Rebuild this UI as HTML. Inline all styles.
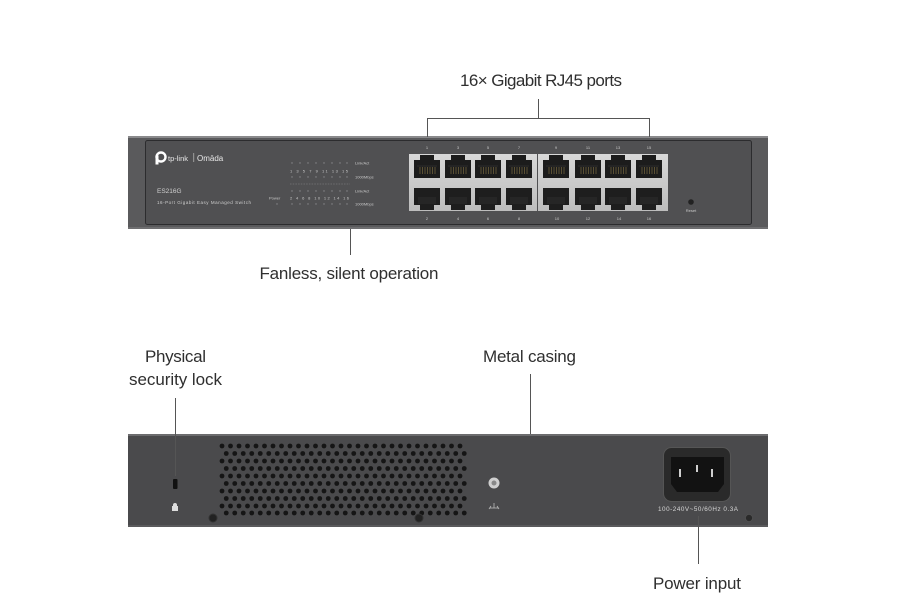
<!DOCTYPE html>
<html><head><meta charset="utf-8"><style>
html,body{margin:0;padding:0;background:#fff;}
body{width:909px;height:614px;overflow:hidden;}
svg{display:block;}
.lbl{font-family:"Liberation Sans",sans-serif;font-size:17px;fill:#2f2f2f;}
.tiny{font-family:"Liberation Sans",sans-serif;font-size:4px;fill:#c9c9c9;}
</style></head><body>
<svg width="909" height="614" viewBox="0 0 909 614" xmlns="http://www.w3.org/2000/svg">
<defs>
<linearGradient id="silver" x1="0" y1="0" x2="0" y2="1">
<stop offset="0" stop-color="#d8d8d8"/><stop offset="1" stop-color="#bdbdbd"/>
</linearGradient>
<g id="portT">
<path d="M0 5 H6 V0 H20 V5 H26 V23 H0 Z" fill="#1c1c1c"/>
<path d="M3 11 H23" stroke="#2c2c2c" stroke-width="1"/>
<g stroke="#6b5e3c" stroke-width="0.8">
<line x1="6" y1="12" x2="6" y2="19"/><line x1="8.5" y1="12" x2="8.5" y2="19"/><line x1="11" y1="12" x2="11" y2="19"/><line x1="13.5" y1="12" x2="13.5" y2="19"/><line x1="16" y1="12" x2="16" y2="19"/><line x1="18.5" y1="12" x2="18.5" y2="19"/><line x1="21" y1="12" x2="21" y2="19"/>
</g>
</g>
<g id="portB">
<path d="M0 0 H26 V17 H20 V22 H6 V17 H0 Z" fill="#1e1e1e"/>
<path d="M4 9 H22 V16 H4 Z" fill="#262626"/>
</g>
<g id="r0">
<circle cx="222" cy="0" r="2.4"/><circle cx="230.5" cy="0" r="2.4"/><circle cx="239" cy="0" r="2.4"/><circle cx="247.5" cy="0" r="2.4"/><circle cx="256" cy="0" r="2.4"/><circle cx="264.5" cy="0" r="2.4"/><circle cx="273" cy="0" r="2.4"/><circle cx="281.5" cy="0" r="2.4"/><circle cx="290" cy="0" r="2.4"/><circle cx="298.5" cy="0" r="2.4"/><circle cx="307" cy="0" r="2.4"/><circle cx="315.5" cy="0" r="2.4"/><circle cx="324" cy="0" r="2.4"/><circle cx="332.5" cy="0" r="2.4"/><circle cx="341" cy="0" r="2.4"/><circle cx="349.5" cy="0" r="2.4"/><circle cx="358" cy="0" r="2.4"/><circle cx="366.5" cy="0" r="2.4"/><circle cx="375" cy="0" r="2.4"/><circle cx="383.5" cy="0" r="2.4"/><circle cx="392" cy="0" r="2.4"/><circle cx="400.5" cy="0" r="2.4"/><circle cx="409" cy="0" r="2.4"/><circle cx="417.5" cy="0" r="2.4"/><circle cx="426" cy="0" r="2.4"/><circle cx="434.5" cy="0" r="2.4"/><circle cx="443" cy="0" r="2.4"/><circle cx="451.5" cy="0" r="2.4"/><circle cx="460" cy="0" r="2.4"/>
</g>
</defs>

<!-- ===== FRONT PANEL ===== -->
<rect x="128" y="136" width="640" height="93" fill="#5a5a5c"/>
<rect x="128" y="136" width="640" height="2" fill="#8a8a8c"/>
<rect x="128" y="227" width="640" height="2" fill="#6e6e70"/>
<rect x="145.5" y="140.5" width="606" height="84" rx="2" fill="#505052" stroke="#2c2c2e" stroke-width="1"/>

<!-- logo -->
<g fill="#ffffff">
<circle cx="161" cy="157" r="4.5" fill="none" stroke="#fff" stroke-width="2.4"/>
<rect x="155.5" y="155.5" width="3" height="9"/>
</g>
<text x="168" y="161" font-family="Liberation Sans,sans-serif" font-size="7.5" fill="#e8e8e8">tp-link</text>
<rect x="193.5" y="153" width="0.6" height="9" fill="#cfcfcf"/>
<text x="197" y="161" font-family="Liberation Sans,sans-serif" font-size="8" fill="#e8e8e8">Omāda</text>
<text x="157" y="193" font-family="Liberation Sans,sans-serif" font-size="6.5" fill="#d0d0d0">ES216G</text>
<text x="157" y="204" font-family="Liberation Sans,sans-serif" font-size="4.5" fill="#cfcfcf" textLength="94">16-Port Gigabit Easy Managed Switch</text>

<!-- LEDs -->
<g fill="#8a8a8c">
<circle cx="292" cy="163" r="0.7"/><circle cx="300" cy="163" r="0.7"/><circle cx="308" cy="163" r="0.7"/><circle cx="316" cy="163" r="0.7"/><circle cx="324" cy="163" r="0.7"/><circle cx="332" cy="163" r="0.7"/><circle cx="340" cy="163" r="0.7"/><circle cx="347" cy="163" r="0.7"/>
<circle cx="292" cy="177" r="0.7"/><circle cx="300" cy="177" r="0.7"/><circle cx="308" cy="177" r="0.7"/><circle cx="316" cy="177" r="0.7"/><circle cx="324" cy="177" r="0.7"/><circle cx="332" cy="177" r="0.7"/><circle cx="340" cy="177" r="0.7"/><circle cx="347" cy="177" r="0.7"/>
<circle cx="292" cy="191" r="0.7"/><circle cx="300" cy="191" r="0.7"/><circle cx="308" cy="191" r="0.7"/><circle cx="316" cy="191" r="0.7"/><circle cx="324" cy="191" r="0.7"/><circle cx="332" cy="191" r="0.7"/><circle cx="340" cy="191" r="0.7"/><circle cx="347" cy="191" r="0.7"/>
<circle cx="292" cy="204" r="0.7"/><circle cx="300" cy="204" r="0.7"/><circle cx="308" cy="204" r="0.7"/><circle cx="316" cy="204" r="0.7"/><circle cx="324" cy="204" r="0.7"/><circle cx="332" cy="204" r="0.7"/><circle cx="340" cy="204" r="0.7"/><circle cx="347" cy="204" r="0.7"/>
<circle cx="277" cy="204" r="0.7"/>
</g>
<line x1="290" y1="184" x2="350" y2="184" stroke="#8a8a8c" stroke-width="0.6" stroke-dasharray="1.5,1.2"/>
<text class="tiny" x="290" y="172.5" textLength="58">1  3  5  7  9 11 13 15</text>
<text class="tiny" x="290" y="199.5" textLength="59">2  4  6  8 10 12 14 16</text>
<text class="tiny" x="269" y="199.5">Power</text>
<text class="tiny" x="355" y="164.5">Link/Act</text>
<text class="tiny" x="355" y="178.5">1000Mbps</text>
<text class="tiny" x="355" y="192.5">Link/Act</text>
<text class="tiny" x="355" y="205.5">1000Mbps</text>

<!-- port blocks -->
<rect x="409" y="154" width="128" height="57" fill="url(#silver)"/>
<rect x="538" y="154" width="130" height="57" fill="url(#silver)"/>
<g>
<use href="#portT" x="414" y="155"/><use href="#portT" x="445" y="155"/><use href="#portT" x="475" y="155"/><use href="#portT" x="506" y="155"/>
<use href="#portT" x="543" y="155"/><use href="#portT" x="575" y="155"/><use href="#portT" x="605" y="155"/><use href="#portT" x="636" y="155"/>
<use href="#portB" x="414" y="188"/><use href="#portB" x="445" y="188"/><use href="#portB" x="475" y="188"/><use href="#portB" x="506" y="188"/>
<use href="#portB" x="543" y="188"/><use href="#portB" x="575" y="188"/><use href="#portB" x="605" y="188"/><use href="#portB" x="636" y="188"/>
</g>
<g class="tiny" text-anchor="middle">
<text x="427" y="149">1</text><text x="458" y="149">3</text><text x="488" y="149">5</text><text x="519" y="149">7</text>
<text x="556" y="149">9</text><text x="588" y="149">11</text><text x="618" y="149">13</text><text x="649" y="149">15</text>
<text x="427" y="220">2</text><text x="458" y="220">4</text><text x="488" y="220">6</text><text x="519" y="220">8</text>
<text x="557" y="220">10</text><text x="588" y="220">12</text><text x="619" y="220">14</text><text x="649" y="220">16</text>
<text x="691" y="212">Reset</text>
</g>
<circle cx="691" cy="202" r="2.8" fill="#222"/>

<!-- front callouts -->
<text class="lbl" x="541" y="86" text-anchor="middle" textLength="162">16× Gigabit RJ45 ports</text>
<g stroke="#555" stroke-width="1" fill="none">
<line x1="538.5" y1="99" x2="538.5" y2="118.5"/>
<polyline points="427.5,137 427.5,118.5 649.5,118.5 649.5,137"/>
<line x1="350.5" y1="229" x2="350.5" y2="255"/>
</g>
<text class="lbl" x="349" y="279" text-anchor="middle" textLength="179">Fanless, silent operation</text>

<!-- ===== BACK PANEL ===== -->
<rect x="128" y="434" width="640" height="93" fill="#4a4a4c"/>
<rect x="128" y="434" width="640" height="2" fill="#6c6c6e"/>
<rect x="128" y="525" width="640" height="2" fill="#5a5a5c"/>

<!-- vent holes -->
<g fill="#151515">
<use href="#r0" x="0" y="446"/>
<use href="#r0" x="4.25" y="453.5"/>
<use href="#r0" x="0" y="461"/>
<use href="#r0" x="4.25" y="468.5"/>
<use href="#r0" x="0" y="476"/>
<use href="#r0" x="4.25" y="483.5"/>
<use href="#r0" x="0" y="491"/>
<use href="#r0" x="4.25" y="498.5"/>
<use href="#r0" x="0" y="506"/>
<use href="#r0" x="4.25" y="513"/>
</g>

<!-- lock -->
<rect x="173" y="479" width="4.5" height="10" rx="1" fill="#111"/>
<path d="M173 505 a2 2 0 0 1 4 0 v1 h1 v5 h-6 v-5 h1 z" fill="#ddd"/>
<!-- screws -->
<circle cx="213" cy="518" r="4" fill="#222" stroke="#333"/>
<circle cx="419" cy="518" r="4" fill="#222" stroke="#333"/>
<circle cx="749" cy="518" r="3.5" fill="#2a2a2a" stroke="#555" stroke-width="0.6"/>
<!-- ground screw -->
<circle cx="494" cy="483" r="5.5" fill="#cfcfcf"/>
<circle cx="494" cy="483" r="2.5" fill="#888"/>
<g stroke="#bbb" stroke-width="0.8" fill="none">
<line x1="494" y1="503" x2="494" y2="508"/>
<line x1="490" y1="508" x2="498" y2="508"/>
<path d="M489 509 L491 506 M497 506 L499 509"/>
</g>

<!-- power socket -->
<rect x="663.5" y="447.5" width="67" height="54" rx="8" fill="#2a2a2a" stroke="#555" stroke-width="1"/>
<path d="M671 457 H724 V484 L718 492 H677 L671 484 Z" fill="#121212"/>
<rect x="679" y="469" width="2" height="8" fill="#cfcfcf"/>
<rect x="696" y="465" width="2" height="7" fill="#cfcfcf"/>
<rect x="711" y="469" width="2" height="8" fill="#cfcfcf"/>
<text x="698" y="511" text-anchor="middle" font-family="Liberation Sans,sans-serif" font-size="6.3" fill="#d6d6d6" textLength="80">100-240V~50/60Hz 0.3A</text>

<!-- back callouts -->
<g stroke="#555" stroke-width="1" fill="none">
<line x1="175.5" y1="398" x2="175.5" y2="476"/>
<line x1="530.5" y1="374" x2="530.5" y2="434"/>
<line x1="698.5" y1="516" x2="698.5" y2="564"/>
</g>
<text class="lbl" x="175.5" y="362" text-anchor="middle" textLength="61">Physical</text>
<text class="lbl" x="175.5" y="385" text-anchor="middle" textLength="93">security lock</text>
<text class="lbl" x="529.5" y="362" text-anchor="middle" textLength="93">Metal casing</text>
<text class="lbl" x="697" y="589" text-anchor="middle" textLength="88">Power input</text>
</svg>
</body></html>
